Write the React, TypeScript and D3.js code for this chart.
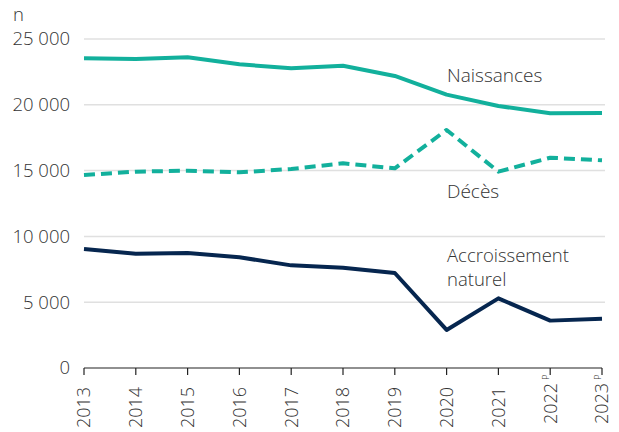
import React from "react";
import * as d3 from "d3";

const years = ["2013", "2014", "2015", "2016", "2017", "2018", "2019", "2020", "2021", "2022", "2023"];
const provisional = [false, false, false, false, false, false, false, false, false, true, true];
const naissances = [23530, 23480, 23610, 23080, 22770, 22970, 22190, 20770, 19910, 19350, 19380];
const deces = [14660, 14920, 14990, 14870, 15120, 15550, 15170, 18090, 14920, 15980, 15780];
const accroissement = [9040, 8690, 8740, 8410, 7800, 7620, 7220, 2890, 5290, 3600, 3750];
const yTicks = [0, 5000, 10000, 15000, 20000, 25000];

const W = 619;
const H = 432;
const TEAL = "#12B09C";
const NAVY = "#06264F";
const FONT = "'Open Sans', 'Noto Sans', sans-serif";
const TXT = "#333";

export default function App() {
  const x = d3.scalePoint<string>().domain(years).range([84, 602]);
  const y = d3.scaleLinear().domain([0, 25000]).range([368, 39]);
  const line = d3
    .line<number>()
    .x((_, i) => x(years[i]) as number)
    .y((d) => y(d));
  const fmt = (v: number) => (v === 0 ? "0" : d3.format(",")(v).replace(",", " "));

  return (
    <svg
      width={W}
      height={H}
      style={{ position: "absolute", left: 0, top: 0, background: "#fff" }}
      fontFamily={FONT}
    >
      <text x={13} y={21} fontSize={18.5} fill={TXT} fontWeight={300}>n</text>
      {yTicks.map((t) => (
        <g key={t}>
          {t > 0 && (
            <line x1={84} x2={605} y1={y(t)} y2={y(t)} stroke="#e0e0e0" strokeWidth={1.5} />
          )}
          <text x={70} y={y(t)} dy="0.35em" textAnchor="end" fontSize={18.5} fill={TXT} fontWeight={300}>
            {fmt(t)}
          </text>
        </g>
      ))}
      <line x1={84} x2={602} y1={368} y2={368} stroke="#222" strokeWidth={1.2} />
      {years.map((yr, i) => (
        <g key={yr} transform={`translate(${x(yr)},368)`}>
          <line y1={0} y2={7} stroke="#222" strokeWidth={1.2} />
          <text
            transform={`translate(0,${provisional[i] ? 15 : 19}) rotate(-90)`}
            dy="0.36em"
            textAnchor="end"
            fontSize={18}
            fill={TXT}
            fontWeight={300}
          >
            {yr}
          </text>
          {provisional[i] && (
            <text
              transform="translate(0,12) rotate(-90)"
              dy="-0.1em"
              textAnchor="start"
              fontSize={9.5}
              fill={TXT}
              fontWeight={300}
            >
              P
            </text>
          )}
        </g>
      ))}
      <path d={line(naissances) || ""} fill="none" stroke={TEAL} strokeWidth={4} strokeLinejoin="round" />
      <path
        d={line(deces) || ""}
        fill="none"
        stroke={TEAL}
        strokeWidth={4}
        strokeDasharray="11 6"
        strokeLinejoin="round"
      />
      <path d={line(accroissement) || ""} fill="none" stroke={NAVY} strokeWidth={4} strokeLinejoin="round" />
      <text x={447} y={82} fontSize={19} fill={TXT} fontWeight={300}>Naissances</text>
      <text x={447} y={198} fontSize={19} fill={TXT} fontWeight={300}>Décès</text>
      <text x={447} y={262} fontSize={18.5} fill={TXT} fontWeight={300}>Accroissement</text>
      <text x={447} y={286} fontSize={18.5} fill={TXT} fontWeight={300}>naturel</text>
    </svg>
  );
}
